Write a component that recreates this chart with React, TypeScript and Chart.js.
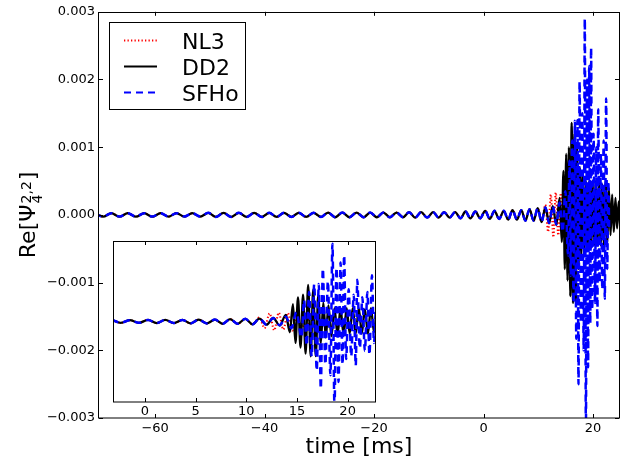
import React, { useEffect, useRef } from 'react';
import { Chart, registerables } from 'chart.js';

Chart.register(...registerables);

const FONT = '"DejaVu Sans", sans-serif';

// ---------- data ----------
const seriesNames = ['NL3', 'DD2', 'SFHo'];

// inspiral (shared by all three EOS, extrema)
const inspiralTime = [
  -71.0, -69.5, -68.0, -66.5, -65.0, -63.5, -62.0, -60.5, -59.0, -57.55, -56.1, -54.65, -53.2, -51.75,
  -50.3, -48.9, -47.5, -46.1, -44.7, -43.3, -41.9, -40.5, -39.15, -37.8, -36.45, -35.1, -33.75, -32.4, -31.05, -29.7,
  -28.4, -27.1, -25.8, -24.5, -23.2, -21.9, -20.7, -19.5, -18.3, -17.1, -15.9, -14.7,
  -13.6, -12.5, -11.4, -10.3, -9.2, -8.2, -7.2, -6.2, -5.2,
  -4.2, -3.3, -2.4, -1.5, -0.6,
  0.3, 1.15, 2.0, 2.85, 3.7,
  4.5, 5.3, 6.1, 6.9,
  7.65, 8.4, 9.15,
  9.9, 10.6,
];
const inspiralValue = [
  2.5e-5, -2.5e-5, 2.5e-5, -2.5e-5, 2.5e-5, -2.5e-5, 2.5e-5, -2.5e-5, 2.5e-5, -2.5e-5, 2.5e-5, -2.5e-5, 2.5e-5, -2.5e-5,
  3e-5, -3e-5, 3e-5, -3e-5, 3e-5, -3e-5, 3e-5, -3e-5, 3e-5, -3e-5, 3e-5, -3e-5, 3e-5, -3e-5, 3e-5, -3e-5,
  3.5e-5, -3.5e-5, 3.5e-5, -3.5e-5, 3.5e-5, -3.5e-5, 3.5e-5, -3.5e-5, 3.5e-5, -3.5e-5, 3.5e-5, -3.5e-5,
  4e-5, -4e-5, 4e-5, -4e-5, 4e-5, -4e-5, 4e-5, -4e-5, 4e-5,
  -5e-5, 5e-5, -5e-5, 5e-5, -5e-5,
  6e-5, -6e-5, 6e-5, -6e-5, 6e-5,
  -7e-5, 7e-5, -7e-5, 7e-5,
  -8.5e-5, 8.5e-5, -8.5e-5,
  1e-4, -1.05e-4,
];

const nl3TailTime = [11.3, 11.8, 12.3, 12.75, 13.2, 13.65, 14.1, 14.55, 15.0, 15.45, 15.9, 16.35, 16.8];
const nl3TailValue = [1.5e-4, -2.5e-4, 3.0e-4, -3.3e-4, 3.3e-4, -3.0e-4, 3.2e-4, -3.4e-4, 3.0e-4, -3.0e-4, 2.5e-4, -2.5e-4, 2.0e-4];

const dd2TailTime = [
  11.3, 12.0, 12.65, 13.3, 13.9, 14.3, 14.6, 14.85, 15.1, 15.35, 15.6, 15.85, 16.1, 16.35, 16.6, 16.85,
  17.1, 17.35, 17.6, 17.85, 18.1, 18.4, 18.7, 19.0, 19.3, 19.6, 19.9, 20.2, 20.5, 20.8, 21.1, 21.4,
  21.7, 22.0, 22.3, 22.6, 22.9, 23.2, 23.5, 23.8, 24.1, 24.4, 24.7, 25.0,
];
const dd2TailValue = [
  1.1e-4, -1.2e-4, 1.3e-4, -1.5e-4, 2.5e-4, -4.0e-4, 6.5e-4, -8.0e-4, 9.0e-4, -9.7e-4, 1.0e-3, -1.2e-3, 1.36e-3, -1.3e-3, 1.2e-3, -1.29e-3,
  1.0e-3, -8.0e-4, 7.0e-4, -6.0e-4, 6.0e-4, -5.5e-4, 5.0e-4, -5.0e-4, 5.0e-4, -5.0e-4, 5.0e-4, -4.5e-4, 5.0e-4, -4.5e-4, 5.0e-4, -4.5e-4,
  4.5e-4, -4.5e-4, 5.0e-4, -4.0e-4, 4.0e-4, -3.0e-4, 3.0e-4, -2.5e-4, 2.5e-4, -2.0e-4, 2.0e-4, -2.0e-4,
];

const sfhoTailTime = [
  11.3, 12.0, 12.65, 13.3, 13.9, 14.45, 14.95, 15.45, 15.7, 15.95, 16.2, 16.45, 16.7, 16.95, 17.15, 17.35,
  17.55, 17.8, 18.05, 18.3, 18.5, 18.7, 18.9, 19.1, 19.3, 19.5, 19.65, 19.85, 20.1, 20.35, 20.6, 20.8,
  20.95, 21.2, 21.45, 21.7, 21.95, 22.15, 22.4, 22.6, 22.8, 22.95,
];
const sfhoTailValue = [
  1.1e-4, -1.2e-4, 1.3e-4, -1.4e-4, 1.8e-4, -2.5e-4, 3.5e-4, -6.0e-4, 8.0e-4, -9.0e-4, 1.1e-3, -1.3e-3, 1.39e-3, -1.83e-3, 1.4e-3, -2.5e-3,
  1.97e-3, -1.6e-3, 1.5e-3, -2.0e-3, 2.9e-3, -3.2e-3, 2.0e-3, -2.25e-3, 2.2e-3, -1.6e-3, 2.47e-3, -1.4e-3, 1.2e-3, -1.3e-3, 1.0e-3, -1.64e-3,
  1.56e-3, -1.0e-3, 9.0e-4, -1.1e-3, 1.1e-3, -1.24e-3, 1.72e-3, -8.0e-4, 5.0e-4, -2.0e-4,
];

const mainXTicks = [-60, -40, -20, 0, 20];
const mainYTicks = [-0.003, -0.002, -0.001, 0, 0.001, 0.002, 0.003];
const insetXTicks = [0, 5, 10, 15, 20];
const mainXRange = [-70.25, 24.75];
const mainYRange = [-0.003, 0.003];
const insetXRange = [-3.06, 22.7];
const insetYRange = [-0.003, 0.003];

const xTitle = 'time [ms]';

// ---------- styles ----------
const seriesColors = ['#ff0000', '#000000', '#0000ff'];
const seriesDash: number[][] = [[1.3, 2.2], [], [7, 5]];
const seriesWidth = [2, 2.3, 2.5];

const toPts = (t: number[], v: number[]) => t.map((x, i) => ({ x, y: v[i] }));
const tails = [
  [nl3TailTime, nl3TailValue],
  [dd2TailTime, dd2TailValue],
  [sfhoTailTime, sfhoTailValue],
];

function buildDatasets() {
  return seriesNames.map((name, i) => ({
    label: name,
    data: [...toPts(inspiralTime, inspiralValue), ...toPts(tails[i][0], tails[i][1])],
    borderColor: seriesColors[i],
    backgroundColor: seriesColors[i],
    borderWidth: seriesWidth[i],
    borderDash: seriesDash[i],
    pointRadius: 0,
    fill: false,
    cubicInterpolationMode: 'monotone' as const,
    order: 2 - i,
    clip: 0,
  }));
}

const minus = (s: string) => s.replace('-', '\u2212');
const fmtX = (v: number) => minus(String(Math.round(v)));
const fmtY = (v: number) => (Math.abs(v) < 1e-12 ? '0.000' : minus(v.toFixed(3)));

function drawTicks(chart: any, xTicks: number[], yTicks: number[], len: number) {
  const { ctx, chartArea: a, scales } = chart;
  ctx.save();
  ctx.strokeStyle = '#000';
  ctx.lineWidth = 1;
  ctx.setLineDash([]);
  ctx.beginPath();
  for (const v of xTicks) {
    const p = Math.round(scales.x.getPixelForValue(v)) + 0.5;
    ctx.moveTo(p, a.bottom);
    ctx.lineTo(p, a.bottom - len);
    ctx.moveTo(p, a.top);
    ctx.lineTo(p, a.top + len);
  }
  for (const v of yTicks) {
    const p = Math.round(scales.y.getPixelForValue(v)) + 0.5;
    ctx.moveTo(a.left, p);
    ctx.lineTo(a.left + len, p);
    ctx.moveTo(a.right, p);
    ctx.lineTo(a.right - len, p);
  }
  ctx.stroke();
  ctx.strokeRect(Math.round(a.left) - 0.5, Math.round(a.top) + 0.5, Math.round(a.width) + 1, Math.round(a.height) - 0.5);
  ctx.restore();
}

const mainDecor = {
  id: 'mainDecor',
  afterDatasetsDraw(chart: any) {
    drawTicks(chart, mainXTicks, mainYTicks, 4);
    const { ctx, chartArea: a } = chart;
    ctx.save();
    // legend
    ctx.fillStyle = '#fff';
    ctx.fillRect(109.5, 22.5, 136, 87);
    ctx.strokeStyle = '#000';
    ctx.lineWidth = 1;
    ctx.strokeRect(109.5, 22.5, 136, 87);
    seriesNames.forEach((name, i) => {
      const y = 40.5 + i * 26;
      ctx.beginPath();
      ctx.setLineDash(seriesDash[i]);
      ctx.strokeStyle = seriesColors[i];
      ctx.lineWidth = 2;
      ctx.moveTo(124, y);
      ctx.lineTo(157, y);
      ctx.stroke();
      ctx.setLineDash([]);
      ctx.fillStyle = '#000';
      ctx.font = `22px ${FONT}`;
      ctx.textAlign = 'left';
      ctx.textBaseline = 'alphabetic';
      ctx.fillText(name, 182, 48.5 + i * 26);
    });
    // x title
    ctx.fillStyle = '#000';
    ctx.font = `22px ${FONT}`;
    ctx.textAlign = 'center';
    ctx.textBaseline = 'alphabetic';
    ctx.fillText(xTitle, (a.left + a.right) / 2, 453);
    // y title  Re[Ψ_4^{2,2}]
    ctx.translate(35, (a.top + a.bottom) / 2);
    ctx.rotate(-Math.PI / 2);
    ctx.textAlign = 'left';
    const big = `22px ${FONT}`;
    const small = `14px ${FONT}`;
    ctx.font = big;
    const w1 = ctx.measureText('Re[\u03A8').width;
    const w3 = ctx.measureText(']').width;
    ctx.font = small;
    const wMid = Math.max(ctx.measureText('2,2').width, ctx.measureText('4').width) + 2;
    const x0 = -(w1 + wMid + w3) / 2;
    ctx.font = big;
    ctx.fillText('Re[\u03A8', x0, 0);
    ctx.font = small;
    ctx.fillText('2,2', x0 + w1 + 1, -4);
    ctx.fillText('4', x0 + w1 + 1, 7);
    ctx.font = big;
    ctx.fillText(']', x0 + w1 + wMid, 0);
    ctx.restore();
  },
};

const insetDecor = {
  id: 'insetDecor',
  beforeDraw(chart: any) {
    const { ctx, chartArea: a } = chart;
    ctx.save();
    ctx.fillStyle = '#fff';
    ctx.fillRect(a.left, a.top, a.width, a.height);
    ctx.restore();
  },
  afterDatasetsDraw(chart: any) {
    drawTicks(chart, insetXTicks, [], 4);
  },
};

export default function App() {
  const mainRef = useRef<HTMLCanvasElement>(null);
  const insetRef = useRef<HTMLCanvasElement>(null);

  useEffect(() => {
    const tickFont = { family: FONT, size: 13 };
    const main = new Chart(mainRef.current as HTMLCanvasElement, {
      type: 'line',
      data: { datasets: buildDatasets() as any },
      options: {
        animation: false,
        responsive: false,
        devicePixelRatio: 1,
        events: [],
        layout: { padding: { left: 0, top: 11, right: 9, bottom: 0 } },
        plugins: { legend: { display: false }, tooltip: { enabled: false } },
        scales: {
          x: {
            type: 'linear',
            min: mainXRange[0],
            max: mainXRange[1],
            grid: { display: false, drawTicks: false },
            border: { display: false },
            ticks: { font: tickFont, color: '#000', padding: 3, maxRotation: 0, autoSkip: false, callback: (v: any) => fmtX(Number(v)) },
            afterBuildTicks: (s: any) => { s.ticks = mainXTicks.map((value) => ({ value })); },
            afterFit: (s: any) => { s.height = 41; },
          },
          y: {
            type: 'linear',
            min: mainYRange[0],
            max: mainYRange[1],
            grid: { display: false, drawTicks: false },
            border: { display: false },
            ticks: { font: tickFont, color: '#000', padding: 4, autoSkip: false, callback: (v: any) => fmtY(Number(v)) },
            afterBuildTicks: (s: any) => { s.ticks = mainYTicks.map((value) => ({ value })); },
            afterFit: (s: any) => { s.width = 99; },
          },
        },
      } as any,
      plugins: [mainDecor],
    });

    const inset = new Chart(insetRef.current as HTMLCanvasElement, {
      type: 'line',
      data: { datasets: buildDatasets() as any },
      options: {
        animation: false,
        responsive: false,
        devicePixelRatio: 1,
        events: [],
        layout: { padding: { left: 10, top: 5, right: 10, bottom: 0 } },
        plugins: { legend: { display: false }, tooltip: { enabled: false } },
        scales: {
          x: {
            type: 'linear',
            min: insetXRange[0],
            max: insetXRange[1],
            grid: { display: false, drawTicks: false },
            border: { display: false },
            ticks: { font: tickFont, color: '#000', padding: 2, maxRotation: 0, autoSkip: false, callback: (v: any) => fmtX(Number(v)) },
            afterBuildTicks: (s: any) => { s.ticks = insetXTicks.map((value) => ({ value })); },
            afterFit: (s: any) => { s.height = 18; },
          },
          y: {
            type: 'linear',
            display: false,
            min: insetYRange[0],
            max: insetYRange[1],
          },
        },
      } as any,
      plugins: [insetDecor],
    });

    return () => {
      main.destroy();
      inset.destroy();
    };
  }, []);

  return (
    <div style={{ position: 'fixed', left: 0, top: 0, width: 628, height: 459, background: '#fff' }}>
      <canvas ref={mainRef} width={628} height={459} style={{ position: 'absolute', left: 0, top: 0, width: 628, height: 459 }} />
      <canvas ref={insetRef} width={281} height={184} style={{ position: 'absolute', left: 104, top: 236, width: 281, height: 184 }} />
    </div>
  );
}
